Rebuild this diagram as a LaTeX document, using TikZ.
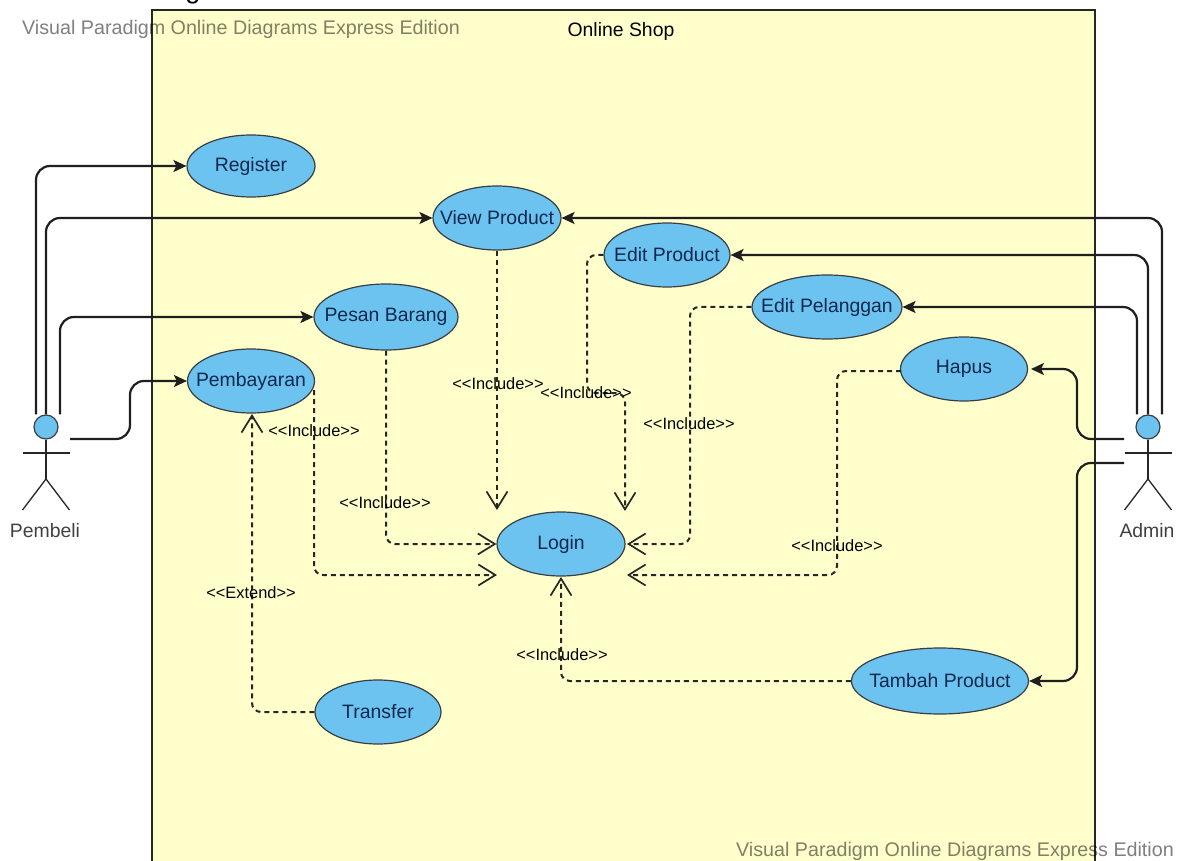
\documentclass[tikz,border=0pt]{standalone}
\usepackage{fontspec}
\setmainfont{Liberation Sans}
\usetikzlibrary{shapes, arrows.meta, positioning}
\definecolor{shopfill}{HTML}{FFFFCB}
\definecolor{usecasefill}{HTML}{6CC3F0}
\definecolor{usecasetext}{HTML}{10284F}
\newcommand{\ucname}[1]{\makebox[0pt]{#1}}
\tikzstyle{usecase} = [draw=black!85!cyan, fill=usecasefill, shape=ellipse, line width=1.2pt, inner sep=0pt, text=usecasetext, font=\fontsize{19.4}{22}\selectfont]
\tikzstyle{head} = [draw=black!85!cyan, fill=usecasefill, shape=circle, line width=1.2pt, inner sep=0pt, minimum size=24pt]
\tikzstyle{actorlabel} = [text=black!75, font=\fontsize{19.4}{22}\selectfont]
\tikzstyle{stick} = [draw=black!85, line width=1.3pt]
\tikzstyle{assoc} = [draw=black!88, line width=2.2pt, rounded corners=14pt, -{Stealth[length=13pt,width=12pt,inset=3pt]}]
\tikzstyle{dep} = [draw=black!85, line width=2pt, dash pattern=on 5pt off 4pt, rounded corners=9pt, -{Straight Barb[length=17pt,width=21pt,line width=1.7pt]}]
\tikzstyle{deplabel} = [text=black, inner sep=0pt, font=\fontsize{16.4}{18}\selectfont]
\tikzstyle{watermark} = [text=black, text opacity=0.5, inner sep=0pt, font=\fontsize{19.7}{22}\selectfont]

\begin{document}
\begin{tikzpicture}[x=1pt, y=-1pt]
    \useasboundingbox (0,0) rectangle (1187,861);
    % system boundary
    \fill [shopfill] (152,10) rectangle (1095,861);
    \draw [draw=black!85, line width=1.5pt] (152,861) -- (152,10) -- (1095,10) -- (1095,861);
    \node [font=\fontsize{19.4}{22}\selectfont, inner sep=0pt] (title) at (621,31) {Online Shop};
    \node [font=\fontsize{27}{30}\selectfont, inner sep=0pt, anchor=base] (cutoff) at (193,-1) {g};

    % use cases
    \node [usecase, minimum width=128pt, minimum height=62pt] (register) at (251,166) {\ucname{Register}};
    \node [usecase, minimum width=128pt, minimum height=64pt] (viewproduct) at (497,218) {\ucname{View Product}};
    \node [usecase, minimum width=126pt, minimum height=64pt] (editproduct) at (667,255) {\ucname{Edit Product}};
    \node [usecase, minimum width=150pt, minimum height=64pt] (editpelanggan) at (827,307) {\ucname{Edit Pelanggan}};
    \node [usecase, minimum width=144pt, minimum height=66pt] (pesanbarang) at (386,317) {\ucname{Pesan Barang}};
    \node [usecase, minimum width=127pt, minimum height=64pt] (hapus) at (964,369) {\ucname{Hapus}};
    \node [usecase, minimum width=127pt, minimum height=64pt] (pembayaran) at (251,381) {\ucname{Pembayaran}};
    \node [usecase, minimum width=128pt, minimum height=64pt] (login) at (561,544) {\ucname{Login}};
    \node [usecase, minimum width=177pt, minimum height=66pt] (tambahproduct) at (940,681) {\ucname{Tambah Product}};
    \node [usecase, minimum width=126pt, minimum height=64pt] (transfer) at (378,712) {\ucname{Transfer}};

    % actors
    \node [head] (pembeli) at (46,427) {};
    \node [head] (admin) at (1148,427) {};
    \foreach \who/\lx in {pembeli/46, admin/1148} {
        \coordinate (\who hip) at (\lx,479);
        \draw [stick] (\who.south) -- (\who hip);
        \draw [stick] (\lx-23.5,453) -- (\lx+23.5,453);
        \draw [stick] (\lx-23.5,510) -- (\who hip) -- (\lx+23.5,510);
    }
    \node [actorlabel] (pembelilabel) at (45,531) {Pembeli};
    \node [actorlabel] (adminlabel) at (1147,531) {Admin};

    % free ends of the connectors
    \coordinate (pembelihand) at (70,439);
    \coordinate (adminhanda) at (1124,439);
    \coordinate (adminhandb) at (1124,463);
    \coordinate (hapusend) at (1031,369);
    \coordinate (loginnw) at (497,510);
    \coordinate (loginne) at (625,511);
    \coordinate (loginsw) at (497,575);
    \coordinate (loginse) at (627,575);
    \coordinate (logine) at (627,544);
    \coordinate (loginsouth) at (561,577);
    \coordinate (bayarfoot) at (252,414);
    \coordinate (bayarright) at (314,390);
    \coordinate (hapusleft) at (901,371);

    % associations
    \draw [assoc] ([xshift=-10pt]pembeli.north) |- (register.west);
    \draw [assoc] (pembeli.north) |- (viewproduct.west);
    \draw [assoc] ([xshift=14pt]pembeli.north) |- (pesanbarang.west);
    \draw [assoc] (pembelihand) -| (130,410) |- (pembayaran.west);
    \draw [assoc] ([xshift=14pt]admin.north) |- (viewproduct.east);
    \draw [assoc] (admin.north) |- (editproduct.east);
    \draw [assoc] ([xshift=-11pt]admin.north) |- (editpelanggan.east);
    \draw [assoc] (adminhanda) -| (1077,400) |- (hapusend);
    \draw [assoc] (adminhandb) -| (1077,600) |- (tambahproduct.east);

    % dependencies
    \draw [dep] (viewproduct.south) -- (loginnw);
    \draw [dep] (editproduct.west) -| (587,393) -| (loginne);
    \draw [dep] (editpelanggan.west) -| (690,500) |- (logine);
    \draw [dep] (hapusleft) -| (837,500) |- (loginse);
    \draw [dep] (pesanbarang.south) |- (login.west);
    \draw [dep] (bayarright) |- (loginsw);
    \draw [dep] (transfer.west) -| (bayarfoot);
    \draw [dep] (tambahproduct.west) -| (loginsouth);

    % dependency labels
    \node [deplabel] (incview) at (498,384) {<{}<Include>{}>};
    \node [deplabel] (incedit) at (586,393) {<{}<Include>{}>};
    \node [deplabel] (incpel) at (689,424) {<{}<Include>{}>};
    \node [deplabel] (incbayar) at (314,431) {<{}<Include>{}>};
    \node [deplabel] (incpesan) at (385,503) {<{}<Include>{}>};
    \node [deplabel] (inchapus) at (837,546) {<{}<Include>{}>};
    \node [deplabel] (inctambah) at (562,655) {<{}<Include>{}>};
    \node [deplabel] (exttransfer) at (251,593) {<{}<Extend>{}>};

    % watermarks
    \node [watermark, anchor=west] (marktop) at (22,29) {Visual Paradigm Online Diagrams Express Edition};
    \node [watermark, anchor=west] (markbottom) at (736,851) {Visual Paradigm Online Diagrams Express Edition};
\end{tikzpicture}
\end{document}
